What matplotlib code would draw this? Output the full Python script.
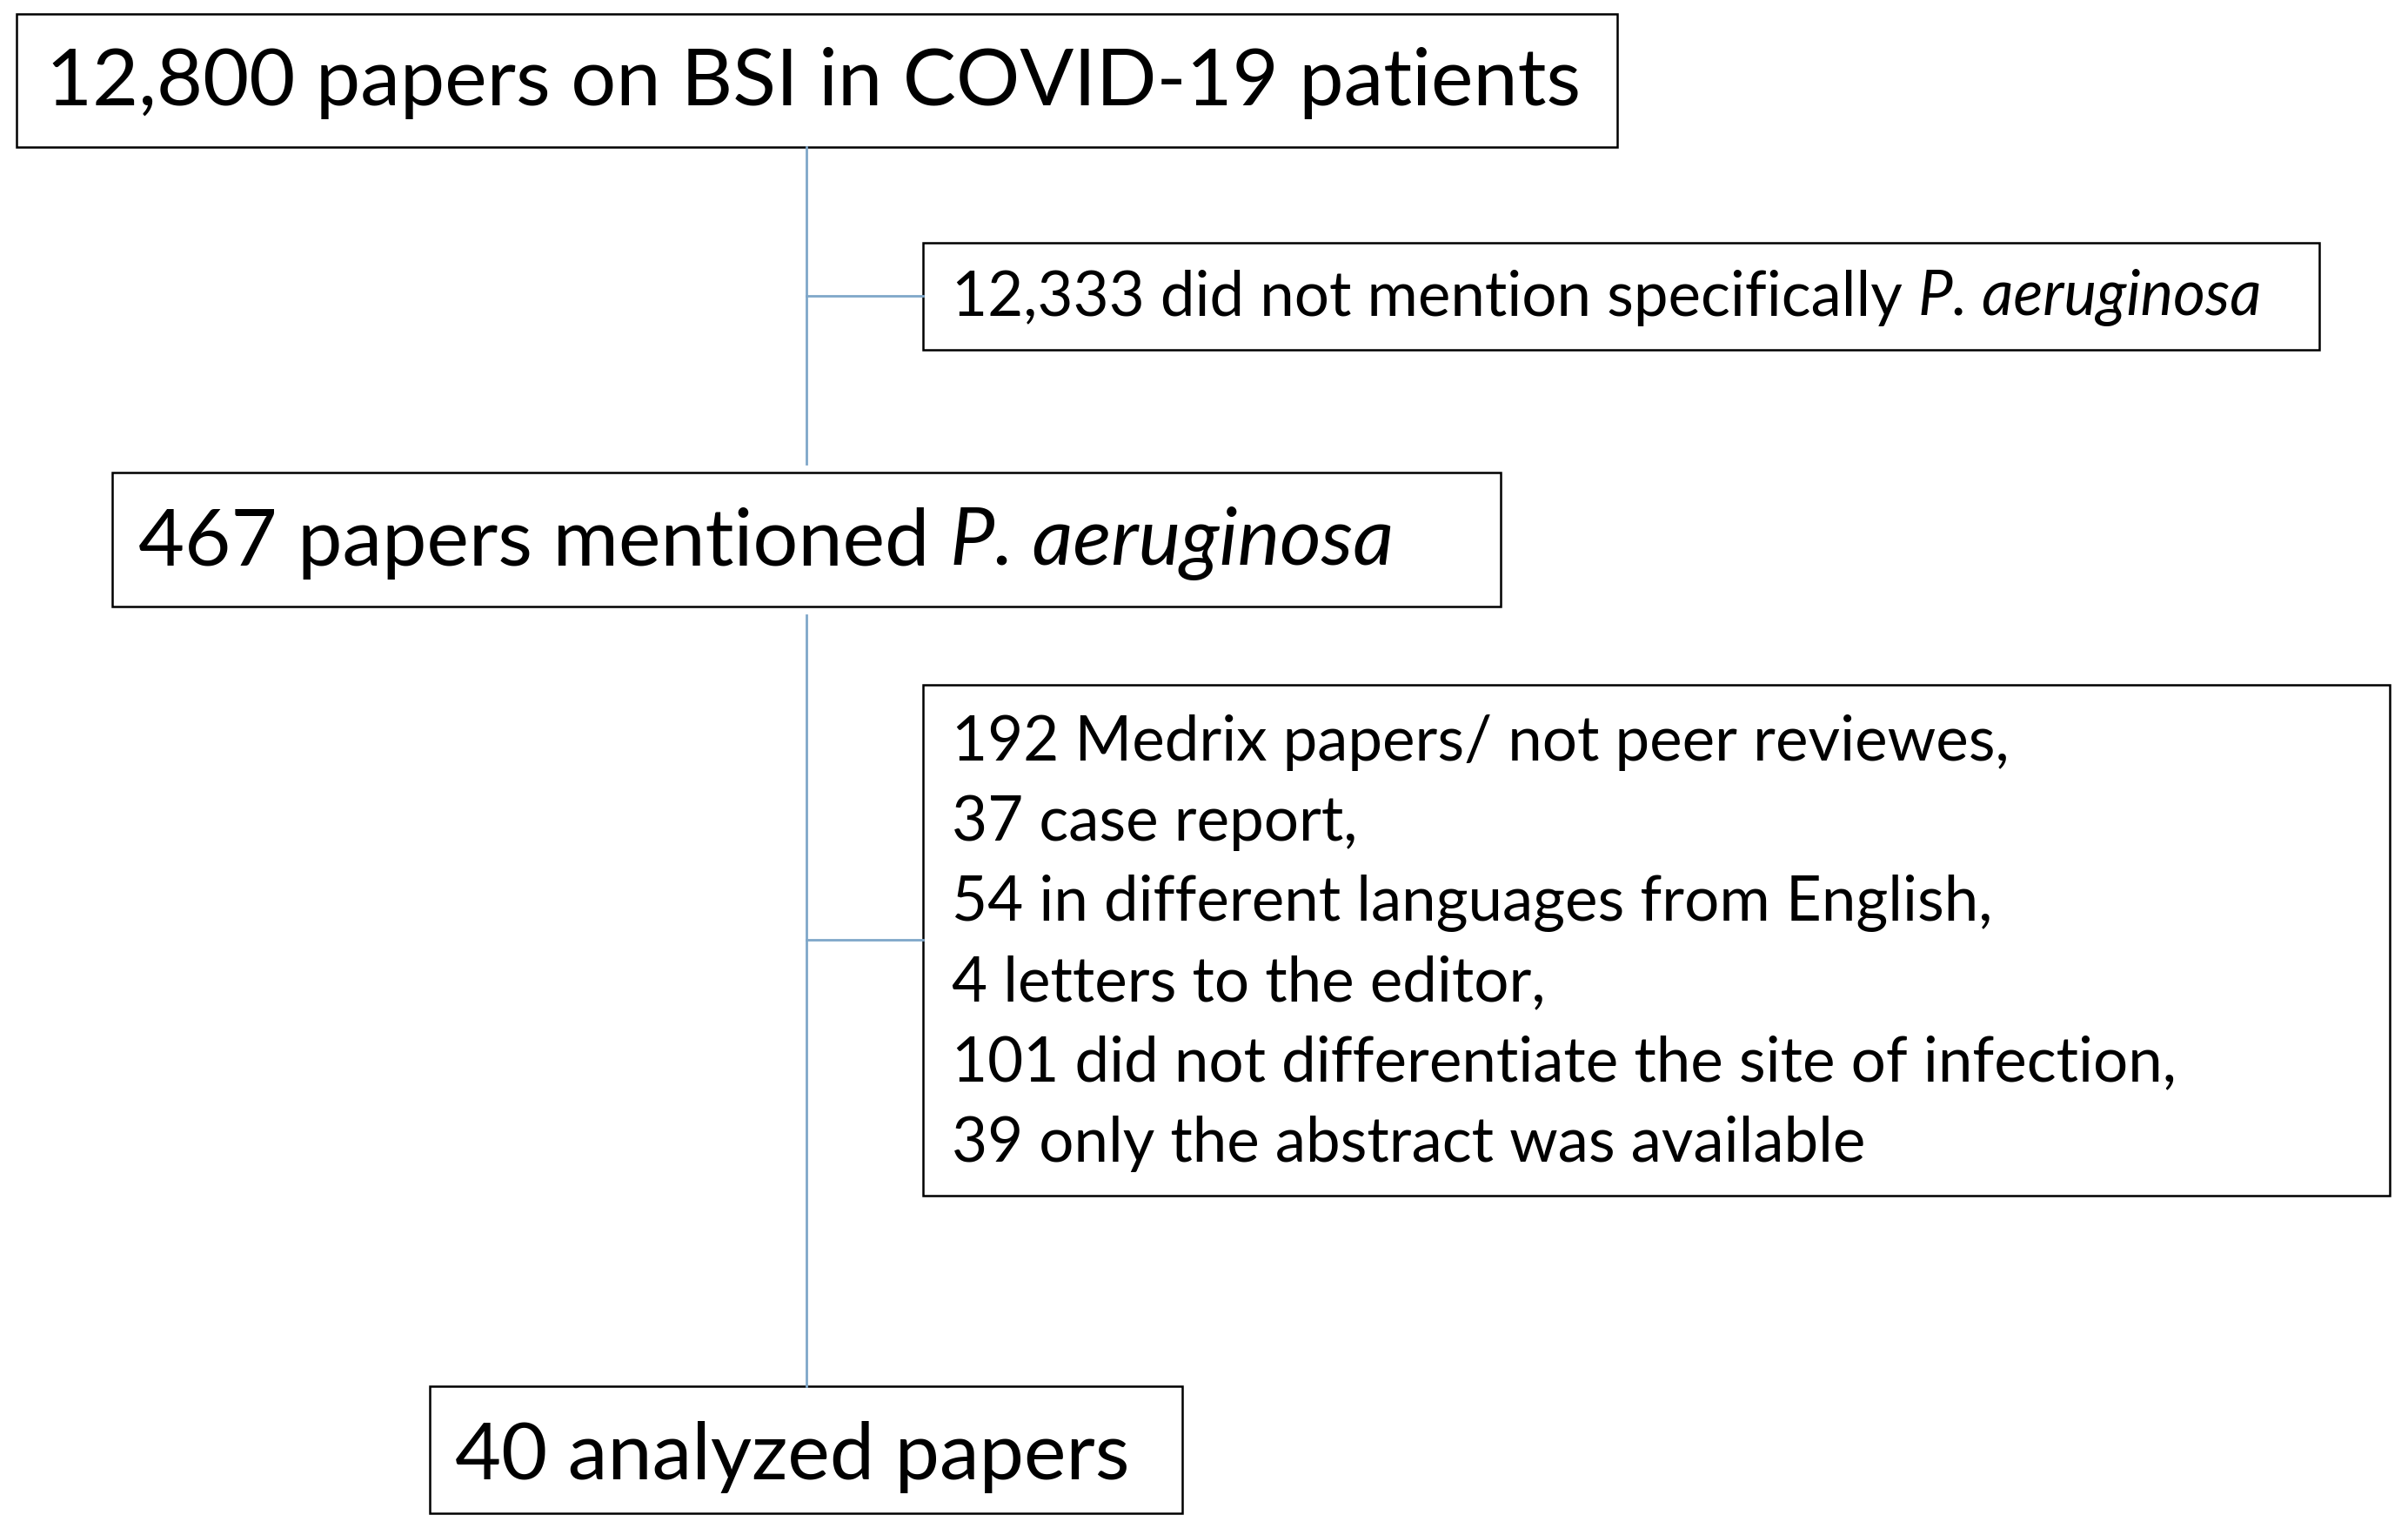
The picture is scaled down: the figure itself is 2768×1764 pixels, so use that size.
import matplotlib
matplotlib.use("Agg")
import matplotlib.pyplot as plt
from matplotlib.patches import Rectangle

plt.rcParams['font.family'] = ['Lato', 'DejaVu Sans']

# boxes: (x0, y0, x1, y1) in reference pixel space (1568 x 1000)
top_text = "12,800 papers on BSI in COVID-19 patients"
excl1 = ("12,333 did not mention specifically ", "P. aeruginosa")
mid_text = ("467 papers mentioned ", "P. aeruginosa")
excl2_lines = [
    "192 Medrix papers/ not peer reviewes,",
    "37 case report,",
    "54 in different languages from English,",
    "4 letters to the editor,",
    "101 did not differentiate the site of infection,",
    "39 only the abstract was available",
]
final_text = "40 analyzed papers"

fig = plt.figure(figsize=(27.68, 17.64), dpi=100)
ax = fig.add_axes([0, 0, 1, 1])
ax.set_xlim(0, 1568)
ax.set_ylim(1000, 0)
ax.axis('off')

def box(x0, y0, x1, y1):
    ax.add_patch(Rectangle((x0, y0), x1 - x0, y1 - y0, fill=False,
                           edgecolor='black', lw=1.8))

line_c = '#7fa7c9'
ax.plot([525, 525], [96, 302], color=line_c, lw=2)
ax.plot([525, 525], [401, 903], color=line_c, lw=2)
ax.plot([525, 601], [193, 193], color=line_c, lw=2)
ax.plot([525, 601], [612, 612], color=line_c, lw=2)

box(11, 9, 1053, 96)
box(601, 158, 1510, 228)
box(73, 308, 977, 395)
box(601, 446, 1556, 779)
box(280, 903, 770, 986)

big, small = 66, 51
fig.canvas.draw()
r = fig.canvas.get_renderer()

def mixed(x, y, normal, ital, size):
    t = ax.text(x, y, normal, fontsize=size, va='center', ha='left')
    bb = t.get_window_extent(r)
    x2 = ax.transData.inverted().transform((bb.x1, bb.y0))[0]
    ax.text(x2, y, ital, fontsize=size, va='center', ha='left', style='italic')

ax.text(30, 54, top_text, fontsize=big, va='center', ha='left')
mixed(620, 194, excl1[0], excl1[1], small)
mixed(90, 354, mid_text[0], mid_text[1], big)
for i, s in enumerate(excl2_lines):
    ax.text(620, 484 + i * 52.2, s, fontsize=small, va='center', ha='left')
ax.text(296, 949, final_text, fontsize=big, va='center', ha='left')

fig.savefig('out.png', dpi=100, facecolor='white')
